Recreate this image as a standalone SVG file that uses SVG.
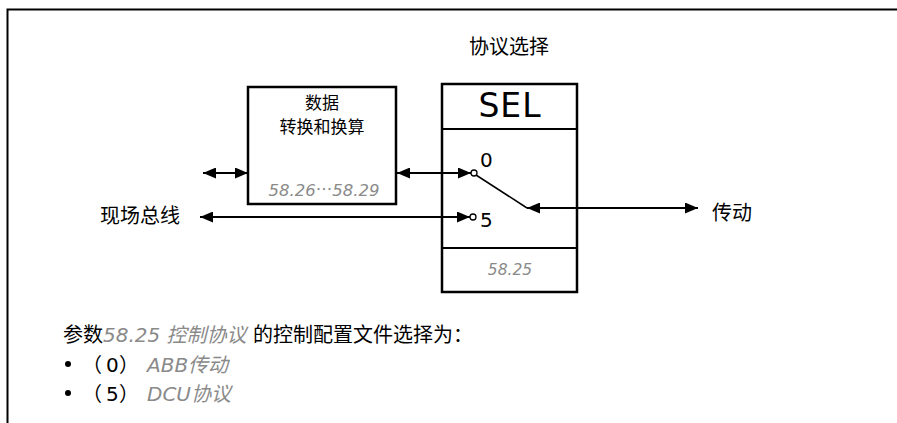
<svg xmlns="http://www.w3.org/2000/svg" width="897" height="423" viewBox="0 0 897 423">
<style>
.t{font-family:"DejaVu Sans","Noto Sans CJK SC",sans-serif;fill:#000}
.c{font-family:"Noto Sans CJK SC",sans-serif;fill:#000}
.g{font-family:"DejaVu Sans","Noto Sans CJK SC",sans-serif;fill:#8a8a8a;font-style:italic}
.box{fill:#fff;stroke:#000;stroke-width:2.5}
.ln{stroke:#000;stroke-width:2;fill:none}
.pt{fill:#fff;stroke:#000;stroke-width:1.3}
</style>
<defs>
<marker id="ah" viewBox="0 0 13 11" refX="13" refY="5.5" markerWidth="13" markerHeight="11" markerUnits="userSpaceOnUse" orient="auto-start-reverse">
<path d="M0,0 L13,5.5 L0,11 Z" fill="#000"/>
</marker>
</defs>
<rect width="897" height="423" fill="#fff"/>
<path d="M7.5,423 V9.5 H897" fill="none" stroke="#000" stroke-width="2"/>
<text class="t" x="509" y="54" font-size="20" text-anchor="middle">协议选择</text>
<g id="data">
<rect class="box" x="248" y="87" width="148" height="117"/>
<text class="t" x="322" y="109" font-size="17" text-anchor="middle">数据</text>
<text class="t" x="322" y="133" font-size="17" text-anchor="middle">转换和换算</text>
<text class="g" x="324" y="196" font-size="16.5" text-anchor="middle">58.26<tspan font-family="Noto Sans CJK SC" font-style="normal">…</tspan>58.29</text>
</g>
<g id="sel">
<rect class="box" x="442" y="84" width="135" height="208"/>
<line class="ln" x1="442" y1="129" x2="577" y2="129" stroke-width="2.5"/>
<line class="ln" x1="442" y1="248" x2="577" y2="248" stroke-width="2.5"/>
<text class="t" x="510" y="117" font-size="33" letter-spacing="1" text-anchor="middle">SEL</text>
<text class="t" x="480" y="167" font-size="20">0</text>
<text class="t" x="480" y="227" font-size="20">5</text>
<text class="g" x="510" y="275" font-size="15.5" text-anchor="middle">58.25</text>
<line x1="476" y1="175" x2="527" y2="208" stroke="#000" stroke-width="1.5"/>
</g>
<g id="connectors">
<line class="ln" x1="203" y1="173" x2="248" y2="173" marker-start="url(#ah)" marker-end="url(#ah)"/>
<line class="ln" x1="397" y1="173" x2="471" y2="173" marker-start="url(#ah)" marker-end="url(#ah)"/>
<line class="ln" x1="200" y1="217" x2="470" y2="217" marker-start="url(#ah)" marker-end="url(#ah)"/>
<line class="ln" x1="527" y1="208" x2="698" y2="208" marker-start="url(#ah)" marker-end="url(#ah)"/>
</g>
<circle class="pt" cx="474" cy="173" r="3"/>
<circle class="pt" cx="473" cy="217" r="3"/>
<g id="fieldbus"><text class="t" x="100" y="223" font-size="20">现场总线</text></g>
<g id="drive"><text class="t" x="712" y="220" font-size="20">传动</text></g>
<g id="notes">
<text class="t" x="63" y="342" font-size="20">参数<tspan class="g">58.25 控制协议</tspan> 的控制配置文件选择为：</text>
<circle cx="68" cy="364" r="3" fill="#000"/>
<text class="c" x="82" y="372" font-size="20">（</text>
<text class="t" x="106" y="372" font-size="20">0</text>
<text class="c" x="119" y="372" font-size="20">）</text>
<text class="g" x="147" y="372" font-size="20">ABB传动</text>
<circle cx="68" cy="393" r="3" fill="#000"/>
<text class="c" x="82" y="401" font-size="20">（</text>
<text class="t" x="106" y="401" font-size="20">5</text>
<text class="c" x="119" y="401" font-size="20">）</text>
<text class="g" x="147" y="401" font-size="20">DCU协议</text>
</g>
</svg>
